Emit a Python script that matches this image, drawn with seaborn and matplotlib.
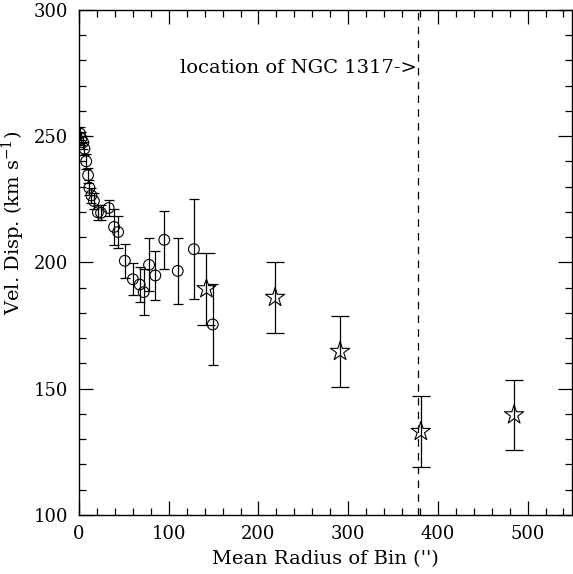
import numpy as np
import pandas as pd
import matplotlib
matplotlib.use("Agg")
import matplotlib.pyplot as plt
import seaborn as sns

# circles: inner bins
circ_r = [1, 2.5, 4.5, 6, 8, 10, 11.5, 13.7, 16.5, 21, 24.5, 33, 39, 43.5,
          51, 60, 67.5, 72, 78, 85, 95, 110, 128, 149]
circ_sig = [251, 249, 247.5, 245, 240, 234.5, 229.5, 226.5, 224.3, 219.8, 219.6, 221.5, 214, 212,
            200.6, 193.3, 191.2, 188.2, 199, 194.8, 208.9, 196.6, 205.2, 175.4]
circ_err = [2.5, 2.5, 2.5, 2.5, 3, 3, 3, 3, 3, 3, 3, 3, 7, 6.5,
            6.7, 6.3, 7, 9, 10.5, 9.6, 11.6, 13.2, 19.7, 16.2]

# stars: outer bins
star_r = [142, 218.5, 291, 381, 485]
star_sig = [189.5, 186.1, 164.7, 133.0, 139.6]
star_err = [14.2, 14.1, 14.2, 14.2, 14.0]

ngc1317_r = 378

sns.set_style("ticks")
plt.rcParams['font.family'] = ['DejaVu Serif']
plt.rcParams['mathtext.fontset'] = 'dejavuserif'
plt.rcParams['text.color'] = 'black'
plt.rcParams['axes.labelcolor'] = 'black'
fs = 14

fig = plt.figure(figsize=(5.73, 5.74), dpi=100)
ax = fig.add_axes([0.138, 0.103, 0.861, 0.880])

circ = pd.DataFrame({"r": circ_r, "sig": circ_sig})
stars = pd.DataFrame({"r": star_r, "sig": star_sig})

ax.errorbar(circ_r, circ_sig, yerr=circ_err, fmt='none', ecolor='black',
            elinewidth=0.9, capsize=3.3, capthick=0.9)
ax.errorbar(star_r, star_sig, yerr=star_err, fmt='none', ecolor='black',
            elinewidth=0.9, capsize=6.5, capthick=0.9)
sns.scatterplot(data=circ, x="r", y="sig", ax=ax, marker='o', s=60,
                facecolor='none', edgecolor='black', linewidth=0.8, zorder=3)
sns.scatterplot(data=stars, x="r", y="sig", ax=ax, marker='*', s=210,
                facecolor='none', edgecolor='black', linewidth=0.8, zorder=3)

ax.axvline(ngc1317_r, color='black', lw=0.9, ls=(0, (6, 5)))
ax.text(ngc1317_r - 1, 277, "location of NGC 1317->", ha='right', va='center',
        fontsize=fs, color='black')

ax.set_xlim(0, 550)
ax.set_ylim(100, 300)
ax.set_xticks(np.arange(0, 501, 100))
ax.set_yticks(np.arange(100, 301, 50))
ax.set_xticks(np.arange(0, 551, 20), minor=True)
ax.set_yticks(np.arange(100, 301, 10), minor=True)
ax.tick_params(which='both', direction='in', top=True, right=True,
               labelsize=13, width=0.9, colors='black')
ax.tick_params(which='major', length=10)
ax.tick_params(which='minor', length=5)
ax.tick_params(axis='x', which='major', pad=7)
ax.tick_params(axis='y', which='major', pad=8)
for s in ax.spines.values():
    s.set_linewidth(1)
    s.set_color('black')

ax.set_xlabel("Mean Radius of Bin ('')", fontsize=fs)
ax.set_ylabel(r"Vel. Disp. (km s$^{-1}$)", fontsize=fs)
ax.xaxis.set_label_coords(0.5, -0.07)
ax.yaxis.set_label_coords(-0.105, 0.578)

fig.savefig("out.png", dpi=100)
